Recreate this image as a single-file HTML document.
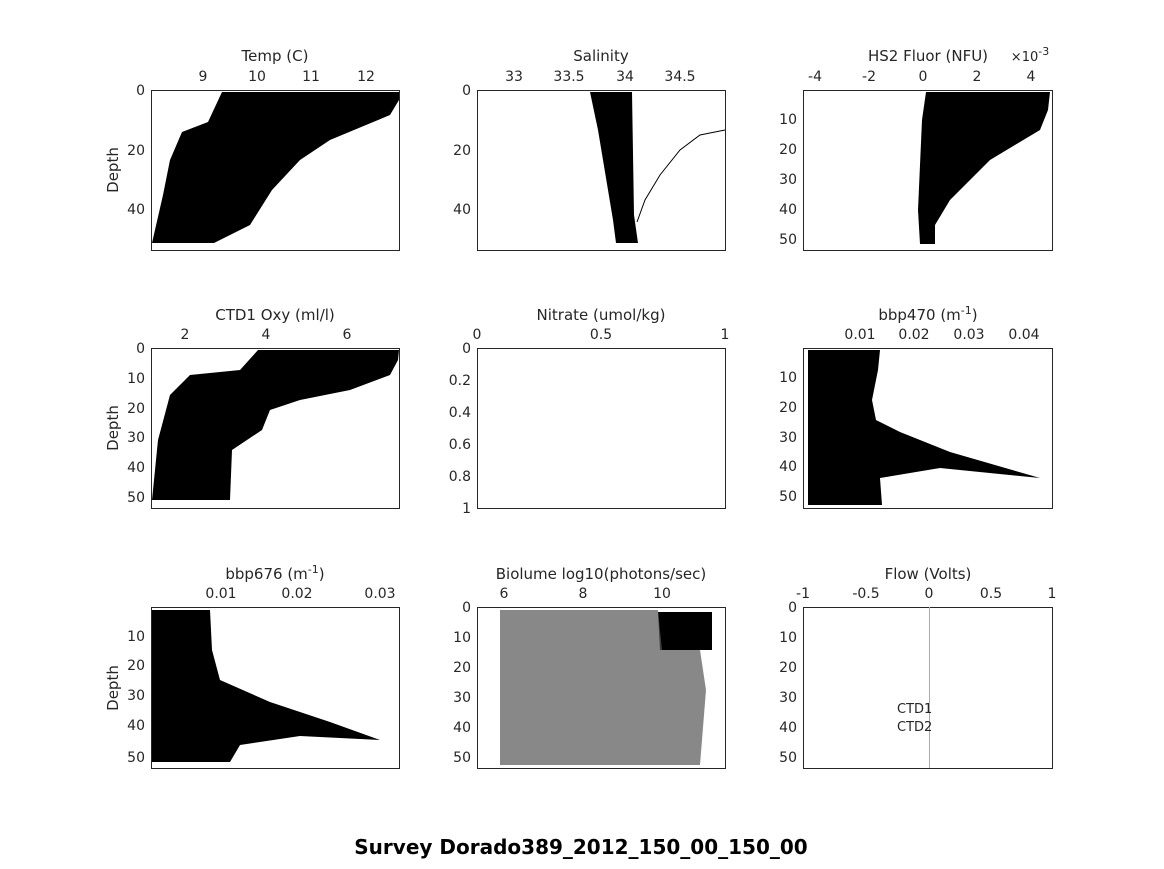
<!DOCTYPE html>
<html><head><meta charset="utf-8"><style>
body{margin:0;background:#fff;}
svg text{font-family:"DejaVu Sans","Liberation Sans",sans-serif;font-size:14px;fill:#262626;}
</style></head><body>
<svg width="1164" height="864" xmlns="http://www.w3.org/2000/svg">
<rect width="1164" height="864" fill="#fff"/>
<g fill="none" stroke="#262626" stroke-width="1">
<rect x="151.5" y="90.5" width="248" height="160"/>
<rect x="477.5" y="90.5" width="248" height="160"/>
<rect x="803.5" y="90.5" width="249" height="160"/>
<rect x="151.5" y="348.5" width="248" height="160"/>
<rect x="477.5" y="348.5" width="248" height="160"/>
<rect x="803.5" y="348.5" width="249" height="160"/>
<rect x="151.5" y="607.5" width="248" height="161"/>
<rect x="477.5" y="607.5" width="248" height="161"/>
<rect x="803.5" y="607.5" width="249" height="161"/>
</g>
<g fill="#000">
<polygon points="152,243 163,195 170,160 182,132 208,122 222,92 399,92 399,100 390,115 330,140 300,160 272,190 250,225 214,243"/>
<polygon points="590,92 632,92 634,215 638,243 616,243 613,220 598,130"/>
<polygon points="926,92 1050,92 1048,110 1040,130 990,160 950,200 935,225 935,244 920,244 918,210 922,120"/>
<polygon points="152,500 158,440 170,395 190,375 240,370 258,350 399,350 398,360 390,375 350,390 300,400 270,410 262,430 232,450 230,500"/>
<polygon points="808,350 880,350 878,370 872,400 876,420 900,432 950,452 1040,478 940,468 880,478 882,505 808,505"/>
<polygon points="152,610 210,610 212,650 220,680 270,702 330,722 380,740 300,736 240,745 230,762 152,762"/>
<polygon points="658,612 712,612 712,650 660,650"/>
</g>
<g fill="#555" opacity="0.7">
<polygon points="500,610 658,610 662,650 700,650 706,690 700,765 500,765"/>
</g>
<polyline points="725,130 700,135 680,150 660,175 645,200 637,222" fill="none" stroke="#000"/>
<line x1="929.5" y1="607" x2="929.5" y2="768" stroke="#aaa"/>
<g text-anchor="middle">
<text x="275" y="61" style="font-size:15px">Temp (C)</text>
<text x="601" y="61" style="font-size:15px">Salinity</text>
<text x="928" y="61" style="font-size:15px">HS2 Fluor (NFU)</text>
<text x="1030" y="61" style="font-size:13px">×10<tspan dy="-6" font-size="11">-3</tspan></text>
<text x="275" y="320" style="font-size:15px">CTD1 Oxy (ml/l)</text>
<text x="601" y="320" style="font-size:15px">Nitrate (umol/kg)</text>
<text x="928" y="320" style="font-size:15px">bbp470 (m<tspan dy="-6" font-size="11">-1</tspan><tspan dy="6">)</tspan></text>
<text x="275" y="579" style="font-size:15px">bbp676 (m<tspan dy="-6" font-size="11">-1</tspan><tspan dy="6">)</tspan></text>
<text x="601" y="579" style="font-size:15px">Biolume log10(photons/sec)</text>
<text x="928" y="579" style="font-size:15px">Flow (Volts)</text>

<text x="203" y="81">9</text><text x="257" y="81">10</text><text x="311" y="81">11</text><text x="366" y="81">12</text>
<text x="514" y="81">33</text><text x="569" y="81">33.5</text><text x="625" y="81">34</text><text x="680" y="81">34.5</text>
<text x="815" y="81">-4</text><text x="869" y="81">-2</text><text x="923" y="81">0</text><text x="977" y="81">2</text><text x="1031" y="81">4</text>
<text x="185" y="339">2</text><text x="266" y="339">4</text><text x="347" y="339">6</text>
<text x="477" y="339">0</text><text x="601" y="339">0.5</text><text x="725" y="339">1</text>
<text x="860" y="339">0.01</text><text x="914" y="339">0.02</text><text x="969" y="339">0.03</text><text x="1024" y="339">0.04</text>
<text x="221" y="598">0.01</text><text x="297" y="598">0.02</text><text x="380" y="598">0.03</text>
<text x="504" y="598">6</text><text x="583" y="598">8</text><text x="662" y="598">10</text>
<text x="803" y="598">-1</text><text x="866" y="598">-0.5</text><text x="929" y="598">0</text><text x="991" y="598">0.5</text><text x="1052" y="598">1</text>
</g>
<g text-anchor="end">
<text x="145" y="95">0</text><text x="145" y="155">20</text><text x="145" y="214">40</text>
<text x="471" y="95">0</text><text x="471" y="155">20</text><text x="471" y="214">40</text>
<text x="797" y="124">10</text><text x="797" y="154">20</text><text x="797" y="184">30</text><text x="797" y="214">40</text><text x="797" y="244">50</text>
<text x="145" y="353">0</text><text x="145" y="383">10</text><text x="145" y="413">20</text><text x="145" y="442">30</text><text x="145" y="472">40</text><text x="145" y="502">50</text>
<text x="471" y="353">0</text><text x="471" y="385">0.2</text><text x="471" y="417">0.4</text><text x="471" y="449">0.6</text><text x="471" y="481">0.8</text><text x="471" y="513">1</text>
<text x="797" y="382">10</text><text x="797" y="412">20</text><text x="797" y="442">30</text><text x="797" y="471">40</text><text x="797" y="501">50</text>
<text x="145" y="641">10</text><text x="145" y="670">20</text><text x="145" y="700">30</text><text x="145" y="730">40</text><text x="145" y="762">50</text>
<text x="471" y="612">0</text><text x="471" y="642">10</text><text x="471" y="672">20</text><text x="471" y="702">30</text><text x="471" y="732">40</text><text x="471" y="762">50</text>
<text x="797" y="612">0</text><text x="797" y="642">10</text><text x="797" y="672">20</text><text x="797" y="702">30</text><text x="797" y="732">40</text><text x="797" y="762">50</text>
</g>
<text transform="translate(118,170) rotate(-90)" text-anchor="middle" style="font-size:15px">Depth</text>
<text transform="translate(118,428) rotate(-90)" text-anchor="middle" style="font-size:15px">Depth</text>
<text transform="translate(118,688) rotate(-90)" text-anchor="middle" style="font-size:15px">Depth</text>
<text x="897" y="713" style="font-size:13px">CTD1</text>
<text x="897" y="731" style="font-size:13px">CTD2</text>
<text x="581" y="854" text-anchor="middle" style="font-size:20px;font-weight:bold;fill:#000">Survey Dorado389_2012_150_00_150_00</text>
</svg>
</body></html>
